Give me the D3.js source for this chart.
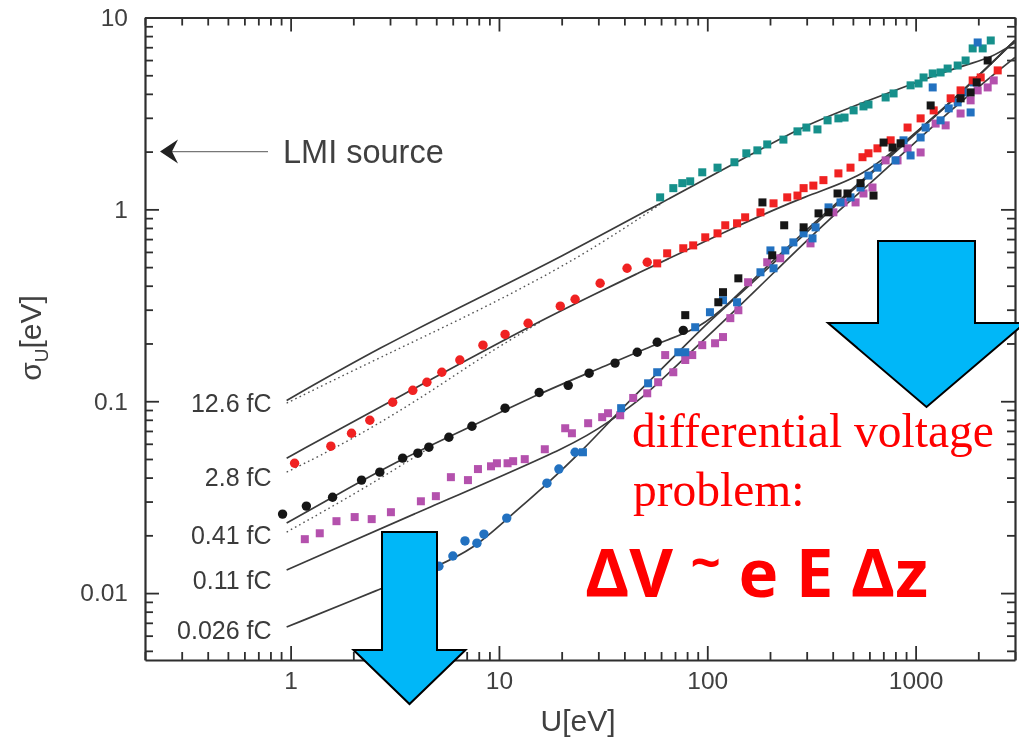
<!DOCTYPE html>
<html><head><meta charset="utf-8">
<script src="https://cdn.jsdelivr.net/npm/d3@7"></script>
<style>html,body{margin:0;padding:0;background:#fff;} svg{display:block;}</style>
</head><body>
<svg id="chart" width="1019" height="738"></svg>
<script>
// ---------------- DATA (U in eV, sigma_U in eV) ----------------
const xMajorTicks = [1, 10, 100, 1000];
const xTickLabels = ["1", "10", "100", "1000"];
const yMajorTicks = [0.01, 0.1, 1, 10];
const yTickLabels = ["0.01", "0.1", "1", "10"];
const seriesNames = ["12.6 fC", "2.8 fC", "0.41 fC", "0.11 fC", "0.026 fC"];

// model curves (solid) and dotted companions
const fit126 = [[0.957,0.101],[2.68,0.191],[8.11,0.348],[19.7,0.562],[59.4,1.075],[180,2.05],[280,2.67],[544,3.57],[1644,5.62],[2295,6.11],[3000,7.41]];
const fit126dot = [[0.957,0.0977],[2.68,0.169],[8.11,0.298],[24.5,0.560],[59.4,1.06]];
const fit28 = [[0.957,0.0505],[3.34,0.106],[15.7,0.264],[47.6,0.470],[125,0.778],[313,1.21],[544,1.45],[946,2.37],[1644,4.02],[3000,7.6]];
const fit28dot = [[0.957,0.0427],[1.92,0.0619],[4.66,0.111],[8.11,0.168],[15.7,0.258]];
const fit041 = [[0.957,0.0232],[1.59,0.0316],[3.45,0.0505],[7.42,0.0741],[15.7,0.110],[30.6,0.1486],[57.5,0.2005],[92.5,0.240],[129,0.328],[180,0.470],[313,0.816],[544,1.40],[946,2.37],[1644,4.02],[3000,7.6]];
const fit041dot = [[0.957,0.0208],[2.19,0.0344],[4.5,0.056]];
const fit011 = [[0.957,0.0132],[4.66,0.0281],[24.5,0.0611],[34.2,0.0796],[47.6,0.101],[74.1,0.160],[129,0.281],[224,0.505],[378,0.877],[656,1.47],[1142,2.58],[1986,4.32],[3000,6.19]];
const fit0026 = [[0.957,0.00665],[2.74,0.0106],[5.03,0.0137],[7.67,0.0172],[10.9,0.0243],[17.0,0.0370],[25.3,0.0556],[38.2,0.0898],[51.5,0.124],[71.8,0.178],[100,0.255],[133,0.336],[180,0.453],[313,0.796],[544,1.37],[946,2.34],[1644,4.02],[3000,7.59]];

// measured points
const teal126Sq = [[59.4,1.155],[68.7,1.29],[75.9,1.37],[82.8,1.40],[94.6,1.56],[112,1.65],[135,1.76],[154,1.96],[174,2.03],[194,2.18],[232,2.31],[271,2.55],[299,2.67],[338,2.61],[378,2.91],[426,2.98],[456,3.01],[504,3.28],[562,3.44],[594,3.52],[718,3.83],[784,4.02],[946,4.43],[1033,4.53],[1092,4.87],[1208,5.11],[1318,5.17],[1425,5.42],[1592,5.62],[1738,5.97],[1879,6.90],[2099,6.90],[2295,7.59]];
const red28Circ = [[1.045,0.0475],[1.56,0.0583],[1.96,0.0681],[2.40,0.0796],[3.09,0.0988],[3.86,0.114],[4.51,0.1256],[5.32,0.1416],[6.49,0.164],[8.38,0.196],[10.7,0.223],[13.8,0.255],[19.7,0.313],[23.2,0.340],[30.6,0.412],[41.2,0.493],[51.5,0.530]];
const red28Sq = [[57.5,0.523],[64.2,0.590],[76.7,0.627],[85.6,0.649],[97.8,0.715],[112,0.750],[122,0.826],[139,0.846],[152,0.909],[180,0.965],[208,1.075],[242,1.155],[271,1.18],[290,1.29],[323,1.33],[361,1.42],[426,1.54],[487,1.65],[556,1.87],[594,1.96],[656,2.08],[759,2.29],[915,2.67],[1057,2.98],[1221,3.28],[1473,3.79],[1644,4.17],[1879,4.70],[2053,4.87],[2478,5.30]];
const blk041Circ = [[0.915,0.0258],[1.19,0.0284],[1.59,0.0316],[2.19,0.0388],[2.68,0.0427],[3.45,0.0505],[4.08,0.0536],[4.61,0.0576],[5.75,0.0649],[7.42,0.0741],[10.7,0.092],[15.6,0.111],[21.5,0.121],[27.1,0.140],[36.1,0.158],[46.1,0.180],[57.5,0.203],[76.7,0.234]];
const blk041Sq = [[78.4,0.281],[113,0.328],[119,0.370],[141,0.437],[184,1.087],[205,0.576],[234,0.826],[290,0.806],[342,0.953],[382,0.965],[422,1.21],[471,1.21],[544,1.37],[628,1.18],[702,2.23],[775,2.10],[847,2.21],[1181,3.48],[1644,3.79],[1837,4.07],[1965,4.59],[2218,5.97]];
const mag011Sq = [[1.17,0.0191],[1.38,0.0205],[1.66,0.0237],[2.03,0.0249],[2.45,0.0243],[3.03,0.0264],[4.22,0.0301],[4.98,0.0320],[5.88,0.0402],[7.10,0.0388],[7.93,0.0443],[9.16,0.0458],[9.78,0.0475],[11.0,0.0475],[11.7,0.0487],[13.3,0.0499],[16.6,0.0562],[20.8,0.0723],[22.4,0.0681],[26.8,0.0768],[31.3,0.0826],[33.4,0.0866],[38.2,0.0845],[44.1,0.104],[51.5,0.110],[58.1,0.1256],[62.8,0.174],[68.7,0.1416],[78.4,0.164],[84.7,0.174],[94.6,0.196],[109,0.2005],[119,0.216],[129,0.271],[141,0.298],[157,0.417],[194,0.530],[224,0.556],[313,0.665],[403,0.965],[451,1.087],[515,1.087],[562,1.21],[621,1.30],[718,1.80],[819,1.80],[915,2.08],[1057,1.98],[1248,2.80],[1394,2.74],[1644,3.16],[1837,3.70],[1986,4.17],[2218,4.32],[2371,4.70]];
const blu0026Circ = [[5.15,0.0138],[6.01,0.0156],[6.87,0.0187],[7.84,0.0182],[8.47,0.0203],[10.9,0.0246],[17.0,0.0374],[19.4,0.0443],[23.2,0.0542]];
const blu0026Sq = [[25.3,0.0542],[38.6,0.092],[52.0,0.124],[57.5,0.1416],[72.6,0.180],[78.4,0.180],[87.5,0.243],[103,0.291],[119,0.336],[139,0.328],[180,0.470],[208,0.493],[201,0.611],[237,0.611],[259,0.673],[290,0.750],[320,0.706],[331,0.806],[382,1.024],[436,1.087],[487,1.155],[544,1.30],[594,1.50],[656,1.65],[801,1.80],[875,2.29],[946,1.91],[1057,2.37],[1117,2.67],[1208,4.32],[1318,2.91],[1442,3.36],[1592,3.61],[1683,4.07],[1837,3.20],[1900,4.59],[1986,7.41]];

// ---------------- LAYOUT ----------------
const svg = d3.select("#chart");
const FONT = "Arial, 'Liberation Sans', Helvetica, sans-serif";
const x = d3.scaleLog().domain([0.2, 3000]).range([145, 1015]);
const y = d3.scaleLog().domain([0.00448, 10]).range([660, 17.5]);
const xMinor = x.ticks().filter(v => !xMajorTicks.includes(v));
const yMinor = y.ticks().filter(v => !yMajorTicks.some(m => Math.abs(m - v) / m < 1e-9));

svg.append("rect").attr("width", 1019).attr("height", 738).attr("fill", "#fff");
svg.append("defs").append("filter").attr("id", "soft")
  .attr("x", "-5%").attr("y", "-5%").attr("width", "110%").attr("height", "110%")
  .append("feGaussianBlur").attr("stdDeviation", 0.55);

const g = svg.append("g").attr("filter", "url(#soft)");
const axisColor = "#2e2e2e";

function styleAxis(sel, keepDomain) {
  sel.selectAll("line").attr("stroke", axisColor).attr("stroke-width", 1.8);
  sel.select(".domain").attr("stroke", axisColor).attr("stroke-width", 2.2);
  if (!keepDomain) sel.select(".domain").remove();
  sel.selectAll("text").attr("font-family", FONT).attr("font-size", 24.5).attr("fill", "#404040");
}
// bottom
g.append("g").attr("transform", "translate(0,660)")
  .call(d3.axisBottom(x).tickValues(xMinor).tickSizeInner(-8).tickSizeOuter(0).tickFormat(""))
  .call(s => styleAxis(s, false));
g.append("g").attr("transform", "translate(0,660)")
  .call(d3.axisBottom(x).tickValues(xMajorTicks).tickSizeInner(-14).tickSizeOuter(0).tickPadding(12)
        .tickFormat((d, i) => xTickLabels[i]))
  .call(s => styleAxis(s, true));
// top
g.append("g").attr("transform", "translate(0,17.5)")
  .call(d3.axisTop(x).tickValues(xMinor).tickSizeInner(-8).tickSizeOuter(0).tickFormat(""))
  .call(s => styleAxis(s, false));
g.append("g").attr("transform", "translate(0,17.5)")
  .call(d3.axisTop(x).tickValues(xMajorTicks).tickSizeInner(-14).tickSizeOuter(0).tickFormat(""))
  .call(s => styleAxis(s, true));
// left
g.append("g").attr("transform", "translate(145,0)")
  .call(d3.axisLeft(y).tickValues(yMinor).tickSizeInner(-8).tickSizeOuter(0).tickFormat(""))
  .call(s => styleAxis(s, false));
g.append("g").attr("transform", "translate(145,0)")
  .call(d3.axisLeft(y).tickValues(yMajorTicks).tickSizeInner(-14).tickSizeOuter(0).tickPadding(17)
        .tickFormat((d, i) => yTickLabels[i]))
  .call(s => styleAxis(s, true));
// right
g.append("g").attr("transform", "translate(1015,0)")
  .call(d3.axisRight(y).tickValues(yMinor).tickSizeInner(-8).tickSizeOuter(0).tickFormat(""))
  .call(s => styleAxis(s, false));
g.append("g").attr("transform", "translate(1015,0)")
  .call(d3.axisRight(y).tickValues(yMajorTicks).tickSizeInner(-14).tickSizeOuter(0).tickFormat(""))
  .call(s => styleAxis(s, true));

// axis titles
g.append("text").attr("x", 578).attr("y", 731).attr("text-anchor", "middle")
  .attr("font-family", FONT).attr("font-size", 30).attr("fill", "#404040").text("U[eV]");
const yt = g.append("text").attr("transform", "translate(41,338) rotate(-90)").attr("text-anchor", "middle")
  .attr("font-family", FONT).attr("font-size", 30).attr("fill", "#404040");
yt.append("tspan").text("σ");
yt.append("tspan").attr("font-size", 19).attr("dy", 7).text("U");
yt.append("tspan").attr("dy", -7).text("[eV]");

// curves
const line = d3.line().x(d => x(d[0])).y(d => y(d[1])).curve(d3.curveBasis);
const solids = [fit126, fit28, fit041, fit011, fit0026];
const dots = [fit126dot, fit28dot, fit041dot];
g.selectAll(".dotc").data(dots).join("path").attr("d", line)
  .attr("fill", "none").attr("stroke", "#555").attr("stroke-width", 1.4).attr("stroke-dasharray", "1.6,3.2");
g.selectAll(".solid").data(solids).join("path").attr("d", line)
  .attr("fill", "none").attr("stroke", "#3a3a3a").attr("stroke-width", 1.7);

// curve labels (anchor sigma for each label, U position near the curve starts)
const labelSigma = [0.0975, 0.0402, 0.0200, 0.0117, 0.0064];
g.selectAll(".clab").data(seriesNames).join("text")
  .attr("x", x(0.81)).attr("y", (d, i) => y(labelSigma[i])).attr("dy", "0.35em")
  .attr("text-anchor", "end").attr("font-family", FONT).attr("font-size", 25).attr("fill", "#3a3a3a")
  .text(d => d);

// markers
const SQ = 8, R = 4.7;
function squares(data, color) {
  g.append("g").selectAll("rect").data(data).join("rect")
    .attr("x", d => x(d[0]) - SQ / 2).attr("y", d => y(d[1]) - SQ / 2)
    .attr("width", SQ).attr("height", SQ).attr("fill", color);
}
function circles(data, color) {
  g.append("g").selectAll("circle").data(data).join("circle")
    .attr("cx", d => x(d[0])).attr("cy", d => y(d[1])).attr("r", R).attr("fill", color);
}
const cTeal = "#17908b", cRed = "#f02020", cBlack = "#151515", cMag = "#b451ad", cBlue = "#2171c0";
squares(teal126Sq, cTeal);
squares(mag011Sq, cMag);
squares(blu0026Sq, cBlue);
circles(blu0026Circ, cBlue);
squares(red28Sq, cRed);
circles(red28Circ, cRed);
squares(blk041Sq, cBlack);
circles(blk041Circ, cBlack);

// LMI source annotation (points at sigma = 2 on the left axis)
const lmiY = y(2);
g.append("line").attr("x1", 172).attr("x2", 268).attr("y1", lmiY).attr("y2", lmiY)
  .attr("stroke", "#777").attr("stroke-width", 1.2);
g.append("path").attr("d", `M160,${lmiY} L178,${lmiY - 12} L172,${lmiY} L178,${lmiY + 12} Z`).attr("fill", "#222");
g.append("text").attr("x", 283).attr("y", lmiY).attr("dy", "0.36em")
  .attr("font-family", FONT).attr("font-size", 32.5).attr("fill", "#404040").text("LMI source");

// ---------------- OVERLAY (slide annotations) ----------------
const arrowFill = "#00b7f8";
function downArrow(cx, top, shaftW, headY, headW, tipY) {
  const p = [[cx - shaftW / 2, top], [cx + shaftW / 2, top], [cx + shaftW / 2, headY], [cx + headW / 2, headY],
             [cx, tipY], [cx - headW / 2, headY], [cx - shaftW / 2, headY]];
  svg.append("path").attr("d", "M" + p.map(q => q.join(",")).join("L") + "Z")
    .attr("fill", arrowFill).attr("stroke", "#000").attr("stroke-width", 2).attr("stroke-linejoin", "miter");
}
downArrow(926.5, 241, 97, 323, 197, 407);
downArrow(409.5, 532, 55, 650, 112, 704);

svg.append("text").attr("x", 632).attr("y", 447)
  .attr("font-family", "'Times New Roman', 'Liberation Serif', serif").attr("font-size", 47.5).attr("fill", "#ff0000")
  .text("differential voltage");
svg.append("text").attr("x", 633).attr("y", 506)
  .attr("font-family", "'Times New Roman', 'Liberation Serif', serif").attr("font-size", 47.5).attr("fill", "#ff0000")
  .text("problem:");
const formula = svg.append("text").attr("x", 585).attr("y", 597)
  .attr("font-family", "'Open Sans', 'Liberation Sans', sans-serif").attr("font-weight", 700).attr("font-size", 66)
  .attr("fill", "#ff0000").attr("textLength", 343).attr("lengthAdjust", "spacingAndGlyphs");
formula.append("tspan").text("ΔV ");
formula.append("tspan").attr("dy", -16).attr("font-size", 52).text("~");
formula.append("tspan").attr("dy", 16).text(" e E Δz");
</script>
</body></html>
